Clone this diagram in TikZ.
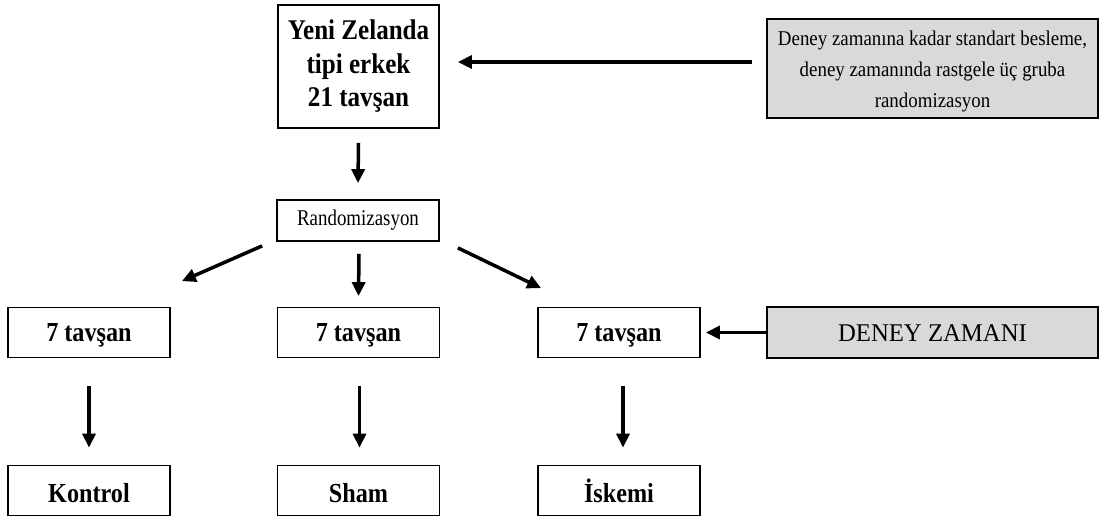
\documentclass[tikz,border=0pt]{standalone}
\usepackage{fontspec}
\setmainfont{Liberation Serif}
\newfontfamily\bfam[FakeStretch=0.88]{Liberation Serif}
\newfontfamily\rfam[FakeStretch=0.84]{Liberation Serif}
\newfontfamily\ifam[FakeStretch=0.9]{Liberation Serif}
\newfontfamily\dfam[FakeStretch=0.97]{Liberation Serif}
\usetikzlibrary{arrows.meta}
\definecolor{boxgrey}{HTML}{D9D9D9}
\tikzset{
  box/.style={draw=black, line width=1.8pt, fill=white, inner sep=0pt, align=center, text=black},
  bbox/.style={box, minimum width=162pt, minimum height=50pt, font=\bfam\bfseries\fontsize{27.5}{31}\selectfont},
  midrow/.style={bbox, text height=20pt, text depth=2pt},
  lowrow/.style={bbox, text height=23.5pt, text depth=0pt},
  gbox/.style={box, fill=boxgrey, minimum width=331pt},
  arr/.style={line width=3.5pt, -{Triangle[length=14pt,width=13pt]}},
}
\begin{document}
\begin{tikzpicture}[x=1pt,y=-1pt]
\useasboundingbox (0,0) rectangle (1101,517);
% top row
\node[box, minimum width=161pt, minimum height=123pt, font=\bfam\bfseries\fontsize{28.5}{33.5}\selectfont] (top) at (358.5,66.5) {Yeni Zelanda\\tipi erkek\\21 tavşan};
\node[gbox, minimum height=99pt, font=\ifam\fontsize{21}{31}\selectfont] (info) at (932.5,68.5) {\raisebox{-3pt}[\height][\depth]{\parbox{320pt}{\centering Deney zamanına kadar standart besleme,\\deney zamanında rastgele üç gruba\\randomizasyon}}};
\node[box, minimum width=162pt, minimum height=41pt, font=\rfam\fontsize{22.5}{26}\selectfont] (rand) at (358,220.5) {Randomizasyon};
% second row
\node[midrow] (g1) at (89,332.5) {7 tavşan};
\node[midrow] (g2) at (358.5,332.5) {7 tavşan};
\node[midrow] (g3) at (619,332.5) {7 tavşan};
\node[gbox, minimum height=51pt, text height=18pt, text depth=0pt, font=\dfam\fontsize{25.5}{28}\selectfont] (dz) at (932.5,332.5) {DENEY ZAMANI};
% third row
\node[lowrow] (r1) at (89,490.5) {Kontrol};
\node[lowrow] (r2) at (358.5,490.5) {Sham};
\node[lowrow] (r3) at (619,490.5) {İskemi};
% arrows
\draw[arr] ([xshift=-14pt,yshift=6.5pt]info.west) -- ([xshift=18pt,yshift=4.5pt]top.east);
\draw[arr] ([yshift=-14pt]top.south) -- ([yshift=16pt]rand.north);
\draw[arr] ([shift={(-14pt,-4pt)}]rand.south west) -- ([shift={(11pt,25.5pt)}]g1.north east);
\draw[arr] ([xshift=1pt,yshift=-12pt]rand.south) -- ([yshift=10.5pt]g2.north);
\draw[arr] ([shift={(18pt,-6pt)}]rand.south east) -- ([shift={(4pt,18.5pt)}]g3.north west);
\draw[arr] (dz.west) -- ([xshift=5pt]g3.east);
\draw[arr] ([yshift=-28pt]g1.south) -- ([yshift=17pt]r1.north);
\draw[arr] ([xshift=1pt,yshift=-28pt]g2.south) -- ([xshift=1pt,yshift=17pt]r2.north);
\draw[arr] ([xshift=4pt,yshift=-28pt]g3.south) -- ([xshift=4pt,yshift=17pt]r3.north);
\end{tikzpicture}
\end{document}
